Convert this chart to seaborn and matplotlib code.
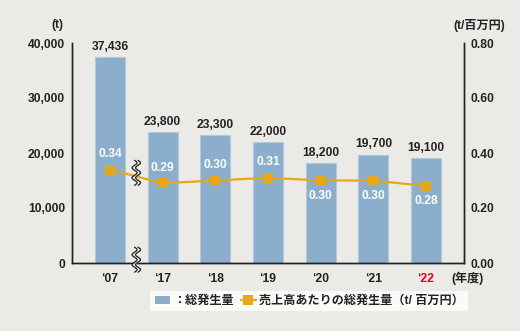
import numpy as np
import pandas as pd
import matplotlib
matplotlib.use("Agg")
import matplotlib.pyplot as plt
import matplotlib.transforms as mtransforms
from matplotlib.patches import Patch
from matplotlib.lines import Line2D
import seaborn as sns

# ---- data ----
years = ["‘07", "‘17", "‘18", "‘19", "‘20", "‘21", "‘22"]
total_waste = [37436, 23800, 23300, 22000, 18200, 19700, 19100]
waste_per_sales = [0.34, 0.29, 0.30, 0.31, 0.30, 0.30, 0.28]
left_ticks = [0, 10000, 20000, 30000, 40000]
right_ticks = [0.0, 0.2, 0.4, 0.6, 0.8]

BG = "#ebeae6"
BAR = "#8aaecb"
LINE = "#e6a719"
RED = "#e60012"

sns.set_theme(style="white")
plt.rcParams["font.family"] = ["Liberation Sans", "Noto Sans CJK JP"]
plt.rcParams["font.weight"] = "bold"

fig = plt.figure(figsize=(5.2, 3.31), dpi=100, facecolor=BG)
ax = fig.add_axes([72 / 520, 68 / 331, 392 / 520, 220 / 331])
ax.set_facecolor(BG)

df = pd.DataFrame({"year": years, "total": total_waste, "ratio": waste_per_sales})
sns.barplot(data=df, x="year", y="total", color=BAR, width=0.57, ax=ax,
            edgecolor="#b3cadd", linewidth=0.8, saturation=1)
ax.set_xlim(-0.72, 6.72)
ax.set_ylim(0, 40000)
ax.set_yticks(left_ticks)
ax.set_yticklabels([f"{v:,}" for v in left_ticks])
ax.set_xlabel("")
ax.set_ylabel("")
ax.tick_params(axis="both", length=0, labelsize=8.7, colors="#222222")
ax.tick_params(axis="y", pad=5)
ax.tick_params(axis="x", pad=7)
for lab in ax.get_xticklabels():
    if lab.get_text() == "‘22":
        lab.set_color(RED)

for i, v in enumerate(total_waste):
    ax.annotate(f"{v:,}", (i, v), xytext=(0, 3), textcoords="offset points",
                ha="center", va="bottom", fontsize=8.7, color="#222222")

ax2 = ax.twinx()
sns.lineplot(x=np.arange(len(years)), y=waste_per_sales, ax=ax2, color=LINE,
             marker="s", markersize=7.5, markeredgewidth=0, linewidth=1.6)
ax2.set_ylim(0, 0.8)
ax2.set_yticks(right_ticks)
ax2.set_yticklabels([f"{v:.2f}" for v in right_ticks])
ax2.tick_params(axis="y", length=0, labelsize=8.7, colors="#222222", pad=5)
ax2.set_xlim(-0.72, 6.72)

for i, v in enumerate(waste_per_sales):
    off = 11 if i <= 3 else -11
    ax2.annotate(f"{v:.2f}", (i, v), xytext=(0, off), textcoords="offset points",
                 ha="center", va="center", fontsize=8.7, color="white")

for a in (ax, ax2):
    for s in ("top",):
        a.spines[s].set_visible(False)
    for s in ("left", "right", "bottom"):
        a.spines[s].set_color("#222222")
        a.spines[s].set_linewidth(1.0)

# axis break squiggles
trans = mtransforms.blended_transform_factory(ax2.transData, ax2.transAxes)
px = 392 / 7.44
t = np.linspace(0, 1, 200)
for yc in (0.41, 0.015):
    h = 25 / 220
    yy = yc - h / 2 + h * t
    xw = 0.5 + (2.5 / px) * np.sin(2 * np.pi * 2.5 * t)
    sep = 3.5 / px
    ax2.fill_betweenx(yy, xw - sep / 2, xw + sep / 2, color=BG, transform=trans,
                      zorder=10, clip_on=False, linewidth=0)
    ax2.plot(xw - sep / 2, yy, color="#222222", lw=0.9, transform=trans, zorder=11, clip_on=False)
    ax2.plot(xw + sep / 2, yy, color="#222222", lw=0.9, transform=trans, zorder=11, clip_on=False)

fig.text(57 / 520, 1 - 25 / 331, "(t)", ha="center", va="center", fontsize=8.7, color="#222222")
fig.text(479 / 520, 1 - 26 / 331, "(t/百万円)", ha="center", va="center", fontsize=8.7, color="#222222")
fig.text(467 / 520, 1 - 278 / 331, "(年度)", ha="center", va="center", fontsize=8.7, color="#222222")

handles = [Patch(facecolor=BAR, edgecolor="none"),
           Line2D([0], [0], color=LINE, marker="s", markersize=7, markeredgewidth=0, lw=1.6)]
labels = ["：総発生量", "売上高あたりの総発生量（t/ 百万円）"]
leg = fig.legend(handles, labels, loc="center", bbox_to_anchor=(309 / 520, 30 / 331), ncol=2,
                 frameon=True, fancybox=False, facecolor="white", edgecolor="white",
                 fontsize=8.7, handlelength=1.3, handletextpad=0.2, columnspacing=0.6,
                 borderpad=0.35, borderaxespad=0)
leg.get_frame().set_linewidth(0)
for txt in leg.get_texts():
    txt.set_color("#222222")

fig.savefig("out.png", dpi=100, facecolor=BG)
